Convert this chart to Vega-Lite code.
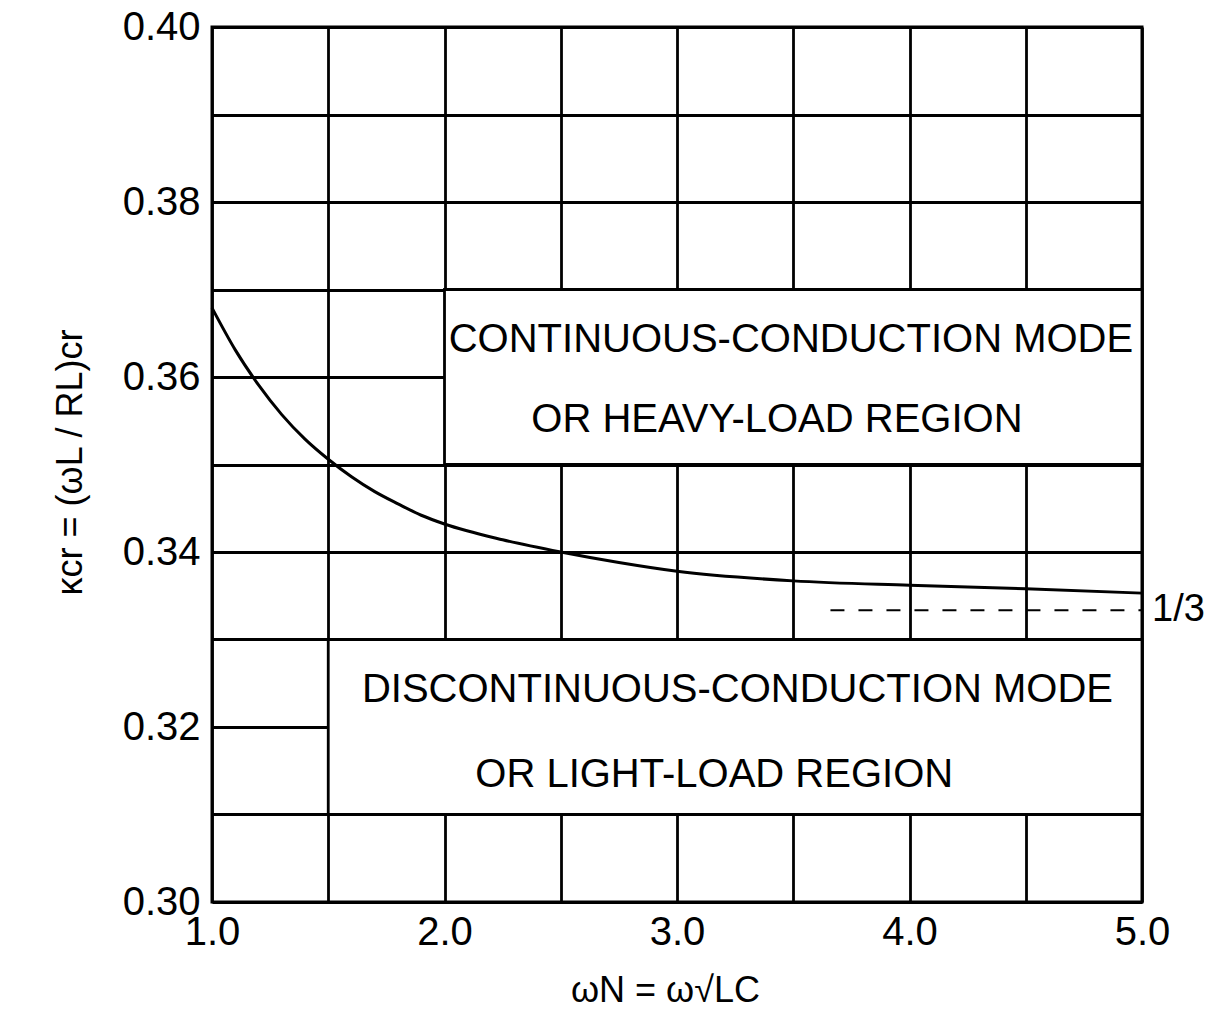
{
  "$schema": "https://vega.github.io/schema/vega-lite/v6.json",
  "autosize": {"type": "none"},
  "width": 930,
  "height": 875,
  "padding": {"left": 212, "top": 27, "right": 82, "bottom": 116},
  "background": "white",
  "config": {
    "view": {"stroke": "black", "strokeWidth": 3},
    "axis": {
      "gridColor": "black", "gridWidth": 2.8, "gridOpacity": 1,
      "ticks": false, "domain": false,
      "labelFont": "Liberation Sans", "labelFontSize": 40, "labelColor": "black",
      "titleFont": "Liberation Sans", "titleFontSize": 36, "titleFontWeight": "normal", "titleColor": "black"
    }
  },
  "datasets": {
    "curve": [
      {"wN": 1.0, "k": 0.3679},
      {"wN": 1.1, "k": 0.3631},
      {"wN": 1.2, "k": 0.3591},
      {"wN": 1.3, "k": 0.3557},
      {"wN": 1.4, "k": 0.3529},
      {"wN": 1.5, "k": 0.3506},
      {"wN": 1.6, "k": 0.3486},
      {"wN": 1.7, "k": 0.3469},
      {"wN": 1.8, "k": 0.3455},
      {"wN": 1.9, "k": 0.3442},
      {"wN": 2.0, "k": 0.3432},
      {"wN": 2.25, "k": 0.3414},
      {"wN": 2.5, "k": 0.3400},
      {"wN": 2.75, "k": 0.3388},
      {"wN": 3.0, "k": 0.3378},
      {"wN": 3.5, "k": 0.3367},
      {"wN": 4.0, "k": 0.3362},
      {"wN": 4.5, "k": 0.3358},
      {"wN": 5.0, "k": 0.3353}
    ],
    "boxes": [
      {"x1": 2.0, "x2": 5.0, "y1": 0.35, "y2": 0.37},
      {"x1": 1.5, "x2": 5.0, "y1": 0.31, "y2": 0.33}
    ],
    "labels": [
      {"text": "CONTINUOUS-CONDUCTION MODE", "x": 3.49, "y": 0.3642},
      {"text": "OR HEAVY-LOAD REGION", "x": 3.43, "y": 0.3551},
      {"text": "DISCONTINUOUS-CONDUCTION MODE", "x": 3.26, "y": 0.3242},
      {"text": "OR LIGHT-LOAD REGION", "x": 3.16, "y": 0.3145}
    ],
    "third": [
      {"x": 3.66, "y": 0.33333},
      {"x": 5.0, "y": 0.33333}
    ],
    "thirdLabel": [
      {"text": "1/3", "x": 5.0, "y": 0.33333}
    ]
  },
  "encoding": {
    "x": {"type": "quantitative"},
    "y": {"type": "quantitative"}
  },
  "layer": [
    {
      "data": {"name": "boxes"},
      "mark": {"type": "rect", "fill": "white", "stroke": "black", "strokeWidth": 2.8},
      "encoding": {
        "x": {"field": "x1", "type": "quantitative",
          "scale": {"domain": [1, 5], "nice": false, "zero": false},
          "axis": {"values": [1, 1.5, 2, 2.5, 3, 3.5, 4, 4.5, 5],
            "labelExpr": "datum.value % 1 === 0 ? format(datum.value, '.1f') : ''",
            "labelPadding": 10, "labelFlush": false,
            "title": "ωN = ω√LC", "titleX": 453, "titleY": 88, "titleBaseline": "middle"}},
        "x2": {"field": "x2"},
        "y": {"field": "y1", "type": "quantitative",
          "scale": {"domain": [0.30, 0.40], "nice": false, "zero": false},
          "axis": {"values": [0.30, 0.31, 0.32, 0.33, 0.34, 0.35, 0.36, 0.37, 0.38, 0.39, 0.40],
            "labelExpr": "round(datum.value * 100) % 2 === 0 ? format(datum.value, '.2f') : ''",
            "labelPadding": 12, "labelFlush": false,
            "title": "κcr = (ωL / RL)cr", "titleX": -142, "titleY": 435, "titleBaseline": "middle"}},
        "y2": {"field": "y2"}
      }
    },
    {
      "data": {"name": "labels"},
      "mark": {"type": "text", "font": "Liberation Sans", "fontSize": 40, "color": "black", "align": "center", "baseline": "middle"},
      "encoding": {
        "x": {"field": "x", "type": "quantitative"},
        "y": {"field": "y", "type": "quantitative"},
        "text": {"field": "text"}
      }
    },
    {
      "data": {"name": "third"},
      "mark": {"type": "line", "color": "black", "strokeWidth": 2, "strokeDash": [14, 14]},
      "encoding": {
        "x": {"field": "x", "type": "quantitative"},
        "y": {"field": "y", "type": "quantitative"}
      }
    },
    {
      "data": {"name": "thirdLabel"},
      "mark": {"type": "text", "font": "Liberation Sans", "fontSize": 38, "color": "black", "align": "left", "baseline": "middle", "dx": 10},
      "encoding": {
        "x": {"field": "x", "type": "quantitative"},
        "y": {"field": "y", "type": "quantitative"},
        "text": {"field": "text"}
      }
    },
    {
      "data": {"name": "curve"},
      "mark": {"type": "line", "color": "black", "strokeWidth": 3, "interpolate": "monotone"},
      "encoding": {
        "x": {"field": "wN", "type": "quantitative"},
        "y": {"field": "k", "type": "quantitative"}
      }
    }
  ]
}
